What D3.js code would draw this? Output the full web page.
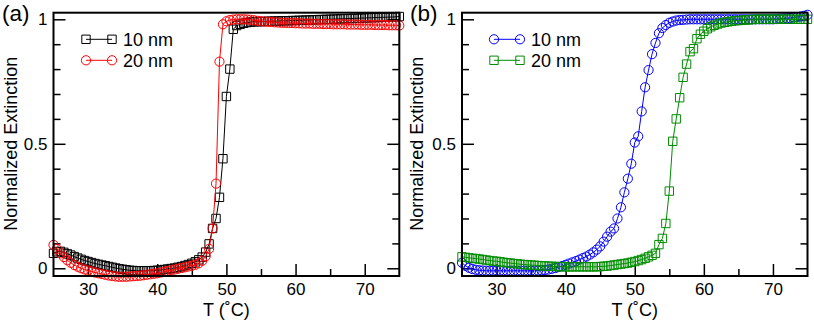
<!DOCTYPE html>
<html><head><meta charset="utf-8">
<script src="https://cdn.jsdelivr.net/npm/d3@7"></script>
<style>body{margin:0;background:#fff}svg{display:block}text{font-family:"Liberation Sans",Arial,Helvetica,sans-serif}</style>
</head><body>
<svg id="chart" width="814" height="322"></svg>
<script>
const temperature = [
 25,25.5,26,26.5,27,27.5,28,28.5,29,29.5,
 30,30.5,31,31.5,32,32.5,33,33.5,34,34.5,
 35,35.5,36,36.5,37,37.5,38,38.5,39,39.5,
 40,40.5,41,41.5,42,42.5,43,43.5,44,44.5,
 45,45.5,46,46.5,47,47.5,48,48.5,49,49.5,
 50,50.5,51,51.5,52,52.5,53,53.5,54,54.5,
 55,55.5,56,56.5,57,57.5,58,58.5,59,59.5,
 60,60.5,61,61.5,62,62.5,63,63.5,64,64.5,
 65,65.5,66,66.5,67,67.5,68,68.5,69,69.5,
 70,70.5,71,71.5,72,72.5,73,73.5,74,74.5,
 75];
// panel (a)
const a10nm = [
 0.060,0.066,0.068,0.064,0.058,0.053,0.047,0.041,0.036,0.031,
 0.027,0.023,0.019,0.016,0.013,0.010,0.007,0.004,0.001,-0.002,
 -0.004,-0.006,-0.008,-0.009,-0.010,-0.010,-0.010,-0.010,-0.010,-0.009,
 -0.008,-0.007,-0.005,-0.003,-0.001,0.001,0.004,0.007,0.011,0.015,
 0.020,0.026,0.034,0.045,0.065,0.098,0.160,0.200,0.285,0.440,
 0.690,0.800,0.960,0.975,0.980,0.984,0.987,0.989,0.990,0.990,
 0.991,0.991,0.992,0.992,0.993,0.993,0.994,0.994,0.994,0.995,
 0.995,0.996,0.996,0.997,0.997,0.998,0.998,0.999,0.999,1.000,
 1.000,1.001,1.001,1.002,1.002,1.003,1.003,1.004,1.004,1.005,
 1.005,1.006,1.006,1.007,1.007,1.008,1.008,1.009,1.009,1.010,
 1.011];
const a20nm = [
 0.094,0.078,0.060,0.045,0.032,0.022,0.013,0.006,0.000,-0.005,
 -0.009,-0.013,-0.017,-0.020,-0.023,-0.026,-0.029,-0.031,-0.033,-0.034,
 -0.034,-0.034,-0.033,-0.032,-0.031,-0.030,-0.028,-0.026,-0.024,-0.022,
 -0.020,-0.017,-0.014,-0.011,-0.008,-0.005,-0.002,0.001,0.004,0.007,
 0.010,0.014,0.020,0.030,0.048,0.078,0.160,0.340,0.830,0.980,
 0.992,0.997,0.999,1.000,1.000,1.000,0.999,0.998,0.996,0.994,
 0.992,0.991,0.990,0.989,0.988,0.987,0.986,0.986,0.985,0.985,
 0.984,0.984,0.983,0.983,0.983,0.982,0.982,0.982,0.981,0.981,
 0.981,0.980,0.980,0.980,0.980,0.979,0.979,0.979,0.979,0.978,
 0.978,0.978,0.978,0.977,0.977,0.977,0.977,0.976,0.976,0.976,
 0.975];
// panel (b)
const b10nm = [
 0.022,0.010,0.002,-0.003,-0.006,-0.008,-0.009,-0.010,-0.010,-0.010,
 -0.010,-0.010,-0.010,-0.010,-0.010,-0.010,-0.010,-0.010,-0.010,-0.010,
 -0.010,-0.010,-0.009,-0.008,-0.007,-0.005,-0.002,0.001,0.005,0.009,
 0.014,0.019,0.024,0.029,0.035,0.041,0.047,0.055,0.064,0.075,
 0.088,0.107,0.127,0.147,0.160,0.200,0.245,0.305,0.360,0.420,
 0.505,0.530,0.630,0.727,0.796,0.860,0.905,0.944,0.965,0.977,
 0.986,0.991,0.995,0.997,0.998,0.999,1.000,1.000,1.000,1.000,
 1.000,1.000,1.000,1.000,1.000,1.000,1.000,1.000,1.000,1.000,
 1.000,1.000,1.000,1.000,1.000,1.000,1.000,1.000,1.000,1.000,
 1.000,1.001,1.002,1.003,1.004,1.005,1.007,1.009,1.011,1.014,
 1.018];
const b20nm = [
 0.046,0.044,0.042,0.040,0.039,0.037,0.035,0.033,0.031,0.029,
 0.028,0.026,0.024,0.022,0.021,0.019,0.018,0.016,0.015,0.014,
 0.013,0.012,0.011,0.010,0.009,0.008,0.008,0.007,0.007,0.006,
 0.006,0.006,0.006,0.006,0.006,0.006,0.006,0.006,0.006,0.006,
 0.007,0.008,0.009,0.011,0.013,0.015,0.017,0.019,0.021,0.024,
 0.027,0.031,0.035,0.040,0.046,0.052,0.060,0.095,0.120,0.180,
 0.310,0.510,0.600,0.685,0.767,0.820,0.870,0.882,0.922,0.940,
 0.952,0.962,0.970,0.976,0.981,0.985,0.988,0.990,0.992,0.994,
 0.995,0.996,0.997,0.998,0.999,1.000,1.000,1.000,1.000,1.000,
 1.000,1.000,1.000,1.000,1.000,1.000,1.000,1.000,1.000,1.000,
 1.000];

const xMajorTicks = [30,40,50,60,70];
const xMinorTicks = [35,45,55,65];
const yMajorTicks = [0,0.5,1];
const yMajorLabels = ["0","0.5","1"];
const yMinorTicks = [0.1,0.2,0.3,0.4,0.6,0.7,0.8,0.9];
const xDomain = [25,75];
const yDomain = [-0.031,1.0265];
const xTitle = "T (\u02DAC)";
const yTitle = "Normalized Extinction";

const panels = [
 {label:"(a)", labelX:2, left:53.5, right:399.3, yTitleX:16.5, legendX:86,
  series:[{name:"10 nm", values:a10nm, color:"#000000", shape:"square"},
          {name:"20 nm", values:a20nm, color:"#ff0000", shape:"circle"}]},
 {label:"(b)", labelX:410, left:462, right:807.5, yTitleX:423, legendX:494,
  series:[{name:"10 nm", values:b10nm, color:"#0000ff", shape:"circle"},
          {name:"20 nm", values:b20nm, color:"#008c00", shape:"square"}]}
];

const plotTop = 12.7, plotBottom = 276;
const svg = d3.select("#chart");
const FONT = '"Liberation Sans",Arial,Helvetica,sans-serif';
const sym = s => d3.symbol().type(s === "square" ? d3.symbolSquare : d3.symbolCircle)
                    .size(s === "square" ? 8.4*8.4 : Math.PI*4.6*4.6)();

function styleAxis(g, size){
  g.select(".domain").remove();
  g.attr("font-size", size).attr("font-family", FONT);
  g.selectAll("line").attr("stroke","#000").attr("stroke-width",1.5);
  g.selectAll("text").attr("fill","#000");
}

panels.forEach(p => {
  const x = d3.scaleLinear(xDomain, [p.left, p.right]);
  const y = d3.scaleLinear(yDomain, [plotBottom, plotTop]);
  const g = svg.append("g");

  g.append("g").attr("transform",`translate(0,${plotBottom})`)
   .call(d3.axisBottom(x).tickValues(xMajorTicks).tickSize(-12).tickPadding(7.4))
   .call(a => styleAxis(a,17));
  g.append("g").attr("transform",`translate(0,${plotBottom})`)
   .call(d3.axisBottom(x).tickValues(xMinorTicks).tickSize(-7).tickFormat(""))
   .call(a => styleAxis(a,17));
  g.append("g").attr("transform",`translate(${p.left},0)`)
   .call(d3.axisLeft(y).tickValues(yMajorTicks).tickSize(-12).tickPadding(6)
         .tickFormat((d,i)=>yMajorLabels[i]))
   .call(a => styleAxis(a,17));
  g.append("g").attr("transform",`translate(${p.left},0)`)
   .call(d3.axisLeft(y).tickValues(yMinorTicks).tickSize(-7).tickFormat(""))
   .call(a => styleAxis(a,17));
  g.append("g").attr("transform",`translate(${p.right},0)`)
   .call(d3.axisRight(y).tickValues(yMajorTicks).tickSize(-12).tickFormat(""))
   .call(a => styleAxis(a,17));
  g.append("g").attr("transform",`translate(${p.right},0)`)
   .call(d3.axisRight(y).tickValues(yMinorTicks).tickSize(-7).tickFormat(""))
   .call(a => styleAxis(a,17));

  p.series.forEach(s => {
    const pts = temperature.map((t,i)=>[t, s.values[i]]);
    g.append("path").datum(pts)
     .attr("d", d3.line().x(d=>x(d[0])).y(d=>y(d[1])))
     .attr("fill","none").attr("stroke",s.color).attr("stroke-width",1);
    g.append("g").selectAll("path").data(pts).join("path")
     .attr("transform", d=>`translate(${x(d[0])},${y(d[1])})`)
     .attr("d", sym(s.shape))
     .attr("fill","none").attr("stroke",s.color).attr("stroke-width",1);
  });

  g.append("rect").attr("x",p.left).attr("y",plotTop)
   .attr("width",p.right-p.left).attr("height",plotBottom-plotTop)
   .attr("fill","none").attr("stroke","#000").attr("stroke-width",2);

  p.series.forEach((s,i) => {
    const ly = 39.3 + 21*i;
    const lg = g.append("g");
    lg.append("line").attr("x1",p.legendX).attr("x2",p.legendX+26)
      .attr("y1",ly).attr("y2",ly).attr("stroke",s.color).attr("stroke-width",1);
    [p.legendX, p.legendX+26].forEach(mx =>
      lg.append("path").attr("transform",`translate(${mx},${ly})`).attr("d",sym(s.shape))
        .attr("fill","none").attr("stroke",s.color).attr("stroke-width",1));
    lg.append("text").attr("x",p.legendX+37).attr("y",ly+6.4)
      .attr("font-size",18).attr("fill","#000").text(s.name);
  });

  g.append("text").attr("x",(p.left+p.right)/2).attr("y",316)
   .attr("text-anchor","middle").attr("font-size",18).text(xTitle);
  g.append("text").attr("transform",`translate(${p.yTitleX},${y(0.5)}) rotate(-90)`)
   .attr("text-anchor","middle").attr("font-size",18).text(yTitle);
  g.append("text").attr("x",p.labelX).attr("y",21)
   .attr("font-size",22.5).text(p.label);
});
</script>
</body></html>
